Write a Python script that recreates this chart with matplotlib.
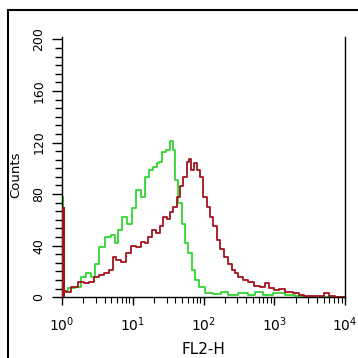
import numpy as np
import matplotlib
matplotlib.use("Agg")
import matplotlib.pyplot as plt
from matplotlib.patches import Rectangle
from matplotlib.ticker import FixedLocator, MultipleLocator, LogLocator, NullFormatter

# FL2-H channel positions given as log10(FL2-H), with counts
green_spike_log = [0.022, 0.022]
green_spike_counts = [5, 78]

green_log = [0.022, 0.038, 0.131, 0.226, 0.297, 0.367, 0.438, 0.485, 0.555, 0.650,
             0.721, 0.767, 0.816, 0.886, 0.957, 1.028, 1.074, 1.145, 1.192, 1.262, 1.314,
             1.357, 1.385, 1.432, 1.502, 1.551, 1.583, 1.611, 1.668, 1.714, 1.763, 1.809,
             1.856, 1.904, 1.975, 2.068, 2.187, 2.304, 2.375, 2.587, 2.657, 2.799, 2.869,
             3.081, 3.223, 3.364, 3.505, 4.0]
green_counts = [5, 5, 7, 8, 16, 18.5, 16, 26, 39, 47,
                48, 42, 52, 62, 57, 69, 83, 78, 93, 99, 101,
                104, 105, 113, 114, 121, 114, 91, 73, 57, 42, 34,
                21, 13, 8, 3, 2.5, 4, 2, 3, 2, 4, 2,
                3, 2, 1, 0, 0]

red_spike_log = [0.0, 0.045]
red_spike_counts = [70, 70]

red_log = [0.045, 0.06, 0.180, 0.273, 0.343, 0.414, 0.485, 0.555, 0.626, 0.697, 0.745,
           0.792, 0.862, 0.933, 1.004, 1.074, 1.145, 1.192, 1.240, 1.290, 1.361, 1.409,
           1.456, 1.502, 1.551, 1.597, 1.644, 1.692, 1.739, 1.786, 1.809, 1.847, 1.880,
           1.926, 1.975, 2.021, 2.068, 2.116, 2.163, 2.209, 2.257, 2.328, 2.375, 2.421,
           2.469, 2.516, 2.587, 2.657, 2.752, 2.845, 2.893, 2.964, 3.035, 3.105, 3.199,
           3.317, 3.388, 3.459, 3.647, 3.746, 3.788, 3.929, 4.0]
red_counts = [5, 4, 8, 12, 11, 12, 16, 17, 18.5, 21, 31,
              29, 27, 34, 40, 39, 43, 42, 47, 52, 50, 55,
              62, 61, 66, 70, 78, 86, 93, 105, 107, 99, 104,
              99, 93, 78, 70, 62, 55, 44, 37, 31, 26, 21,
              18.5, 16, 13, 12, 9, 8, 11, 7, 5.5, 6, 4,
              3, 2, 1, 1, 3, 1, 0, 0]

y_ticks = [0, 40, 80, 120, 160, 200]
x_ticks = [1, 10, 100, 1000, 10000]
x_tick_labels = [r"$10^0$", r"$10^1$", r"$10^2$", r"$10^3$", r"$10^4$"]

GREEN = "#33d633"
RED = "#a3121c"

fig = plt.figure(figsize=(3.58, 3.58), dpi=100)
ax = fig.add_axes([0.173, 0.170, 0.791, 0.727])

ax.plot(10 ** np.array(green_spike_log), green_spike_counts, color=GREEN, lw=1.5,
        zorder=2, clip_on=False)
ax.plot(10 ** np.array(green_log), green_counts, color=GREEN, lw=1.3,
        drawstyle="steps-mid", zorder=2)
ax.fill_between(10 ** np.array(red_spike_log), 0, red_spike_counts, color=RED,
                lw=0, zorder=3)
ax.plot(10 ** np.array(red_log), red_counts, color=RED, lw=1.3,
        drawstyle="steps-mid", zorder=3)

ax.set_xscale("log")
ax.set_xlim(1, 10000)
ax.set_ylim(0, 202)

ax.set_xticks(x_ticks)
ax.set_xticklabels(x_tick_labels, fontsize=10)
ax.xaxis.set_minor_locator(LogLocator(base=10, subs=np.arange(2, 10)))
ax.xaxis.set_minor_formatter(NullFormatter())

ax.yaxis.set_major_locator(FixedLocator(y_ticks))
ax.set_yticklabels([str(v) for v in y_ticks], fontsize=9, rotation=90, va="center")
ax.yaxis.set_minor_locator(MultipleLocator(40 / 6))

ax.tick_params(axis="y", which="major", length=7, width=1.0, direction="out", pad=5)
ax.tick_params(axis="y", which="minor", length=5, width=1.0, direction="out")
ax.tick_params(axis="x", which="major", length=6, width=1.0, direction="out", pad=7)
ax.tick_params(axis="x", which="minor", length=4, width=0.8, direction="out")
ax.tick_params(right=False, top=False, which="both")

ax.spines["top"].set_visible(False)
for s in ("left", "bottom", "right"):
    ax.spines[s].set_linewidth(1.0)

ax.set_xlabel("FL2-H", fontsize=11, labelpad=6)
ax.set_ylabel("Counts", fontsize=9.5, labelpad=6)
ax.yaxis.set_label_coords(-0.14, 0.47)

# outer frame
fig.patches.append(Rectangle((8 / 358, -0.1), 1.2, 1.1 - 10 / 358,
                             transform=fig.transFigure, fill=False,
                             edgecolor="black", lw=1.5))

fig.savefig("out.png", dpi=100)
